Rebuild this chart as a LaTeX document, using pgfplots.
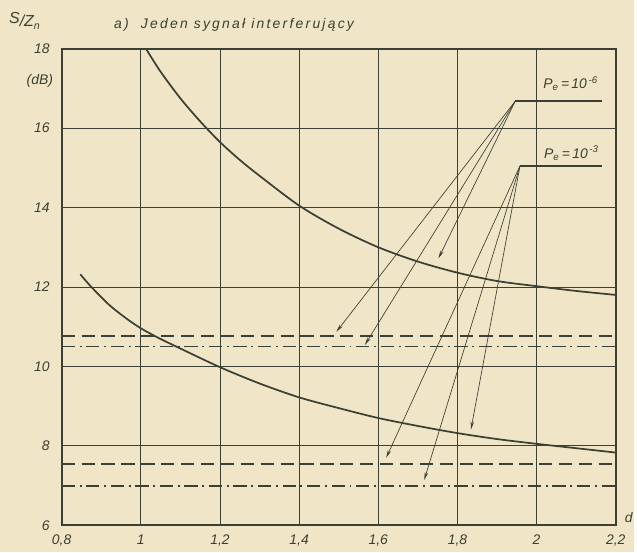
\documentclass[border=0pt]{standalone}
\usepackage{fontspec}
\setmainfont{Liberation Sans}
\newfontfamily\lett[LetterSpace=16]{Liberation Sans}
\usepackage{pgfplots}
\pgfplotsset{compat=1.18}
\usetikzlibrary{arrows.meta}
\definecolor{bg}{RGB}{240,229,199}
\definecolor{ink}{RGB}{58,64,52}
\begin{document}
\begin{tikzpicture}[font=\fontsize{10.5}{12}\selectfont\itshape]
\fill[bg] (-46.5pt,-20.25pt) rectangle (431.25pt,396pt);
\begin{axis}[at={(0pt,0pt)}, anchor=south west, scale only axis,
  width=417.75pt, height=359.25pt,
  xmin=0.8, xmax=2.2, ymin=6, ymax=18,
  xtick={0.8,1,1.2,1.4,1.6,1.8,2,2.2},
  xticklabels={{0,8},1,{1,2},{1,4},{1,6},{1,8},2,{2,2}},
  ytick={6,8,10,12,14,16,18},
  yticklabels={6,8,10,12,14,16,18},
  grid=major, major grid style={ink, line width=0.65pt},
  axis line style={ink, line width=1.6pt},
  major tick length=0pt, tick style={draw=none},
  xticklabel style={yshift=-4pt, text=ink},
  yticklabel style={xshift=-5.5pt, text=ink},
  clip=false]
% upper curve
\addplot[ink, line width=1.3pt, smooth] coordinates {
(1.013,18.0) (1.05,17.42) (1.1,16.75) (1.15,16.17) (1.2,15.65) (1.25,15.2) (1.3,14.8)
(1.4,14.05) (1.5,13.47) (1.6,13.0) (1.7,12.64) (1.8,12.36) (1.9,12.15) (2.0,12.02)
(2.1,11.9) (2.2,11.8)};
% lower curve
\addplot[ink, line width=1.3pt, smooth] coordinates {
(0.847,12.32) (0.875,12.0) (0.92,11.55) (0.963,11.21) (1.0,10.96) (1.046,10.71)
(1.1,10.45) (1.2,9.98) (1.3,9.57) (1.4,9.22) (1.5,8.95) (1.6,8.7) (1.7,8.5)
(1.8,8.32) (1.9,8.17) (2.0,8.05) (2.1,7.94) (2.2,7.83)};
% horizontal lines
\addplot[ink, line width=1.3pt, dash pattern=on 10pt off 5pt] coordinates {(0.8,10.77) (2.2,10.77)};
\addplot[ink, line width=1.3pt, dash pattern=on 10pt off 3.5pt on 1.5pt off 3.5pt] coordinates {(0.8,10.5) (2.2,10.5)};
\addplot[ink, line width=1.3pt, dash pattern=on 10pt off 5pt] coordinates {(0.8,7.55) (2.2,7.55)};
\addplot[ink, line width=1.3pt, dash pattern=on 10pt off 3.5pt on 1.5pt off 3.5pt] coordinates {(0.8,6.98) (2.2,6.98)};
% leaders
\addplot[ink, line width=1.1pt] coordinates {(1.946,16.68) (2.164,16.68)};
\addplot[ink, line width=1.1pt] coordinates {(1.958,15.05) (2.164,15.05)};
% arrows
\addplot[ink, line width=0.5pt, -{Stealth[length=6pt,width=2.6pt]}] coordinates {(1.946,16.68) (1.494,10.87)};
\addplot[ink, line width=0.5pt, -{Stealth[length=6pt,width=2.6pt]}] coordinates {(1.946,16.68) (1.566,10.54)};
\addplot[ink, line width=0.5pt, -{Stealth[length=6pt,width=2.6pt]}] coordinates {(1.946,16.68) (1.752,12.72)};
\addplot[ink, line width=0.5pt, -{Stealth[length=6pt,width=2.6pt]}] coordinates {(1.958,15.05) (1.62,7.7)};
\addplot[ink, line width=0.5pt, -{Stealth[length=6pt,width=2.6pt]}] coordinates {(1.958,15.05) (1.716,7.14)};
\addplot[ink, line width=0.5pt, -{Stealth[length=6pt,width=2.6pt]}] coordinates {(1.958,15.05) (1.834,8.41)};
\node[text=ink] at (axis cs:2.086,17.12) {P\textsubscript{e}\,=\,10\textsuperscript{\,-6}};
\node[text=ink] at (axis cs:2.088,15.37) {P\textsubscript{e}\,=\,10\textsuperscript{\,-3}};
\end{axis}
\node[text=ink, anchor=west] at (36pt,377.5pt) {\lett\itshape a)\ \ Jeden sygnał interferujący};
\node[text=ink] at (-27.75pt,380.25pt) {\fontsize{12}{14}\selectfont\raisebox{2.5pt}{S}/Z\textsubscript{n}};
\node[text=ink] at (-16.5pt,335.25pt) {(dB)};
\node[text=ink] at (427.5pt,6pt) {d};
\end{tikzpicture}
\end{document}
